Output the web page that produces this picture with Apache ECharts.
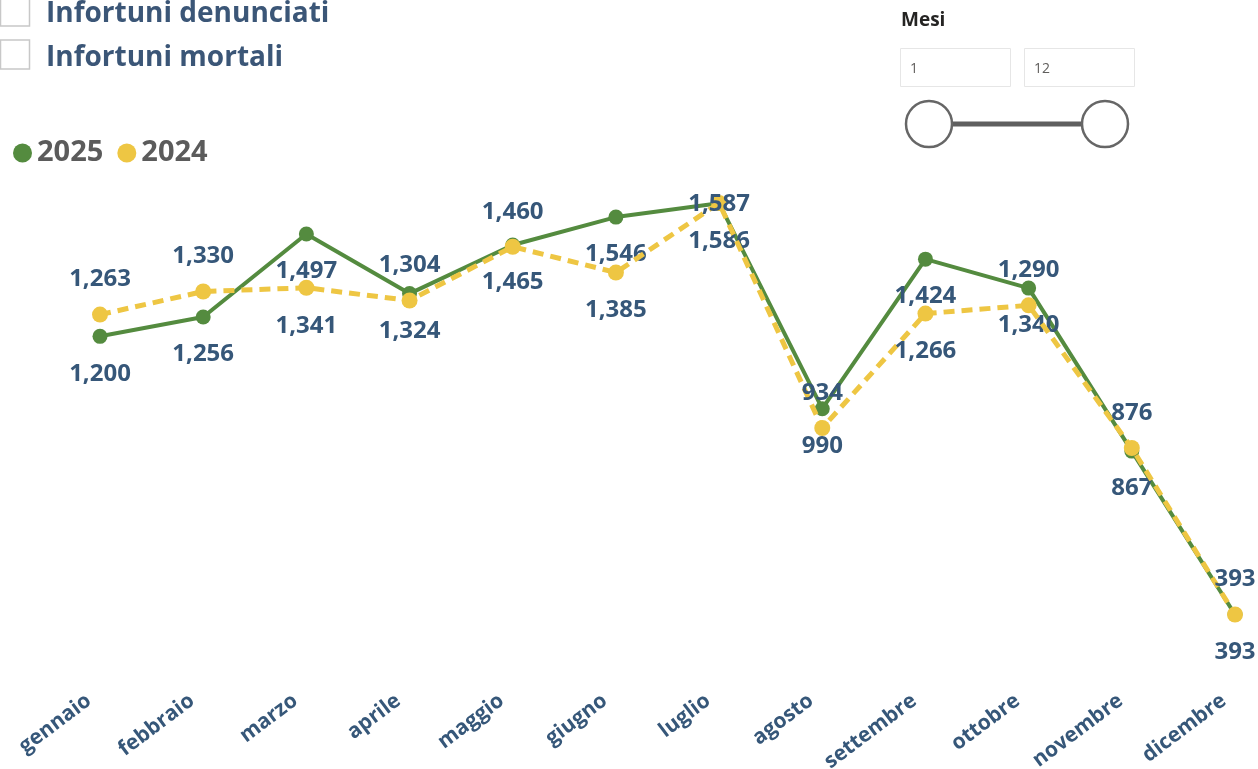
<!DOCTYPE html>
<html lang="it">
<head>
<meta charset="UTF-8">
<title>Infortuni per mese</title>
<script src="https://cdn.jsdelivr.net/npm/echarts@6/dist/echarts.min.js"></script>
<style>
  html, body { margin: 0; padding: 0; background: #fff; }
  #main { width: 1258px; height: 769px; }
</style>
</head>
<body>
<div id="main"></div>
<script>
// dati
var mesi = ['gennaio', 'febbraio', 'marzo', 'aprile', 'maggio', 'giugno',
  'luglio', 'agosto', 'settembre', 'ottobre', 'novembre', 'dicembre'];
var valori2025 = [1200, 1256, 1497, 1324, 1465, 1546, 1586, 990, 1424, 1340, 867, 393];
var valori2024 = [1263, 1330, 1341, 1304, 1460, 1385, 1587, 934, 1266, 1290, 876, 393];

var FONT = "'Open Sans', 'DejaVu Sans', sans-serif";
var LABEL_COLOR = '#365779';
var VERDE = '#548b3f';
var GIALLO = '#eec643';
var LIMITE_ETICHETTE = 192; // le etichette non salgono oltre il bordo dell'area del grafico

var chart = echarts.init(document.getElementById('main'));

// etichette: 2025 sempre sotto, 2024 sopra salvo quando il 2025 e' molto piu' alto
var sotto = { position: 'bottom', distance: 18 };
var sopra = { position: 'top', distance: 15 };
var dati2025 = valori2025.map(function (v) {
  return { value: v, label: sotto };
});
var dati2024 = valori2024.map(function (v, i) {
  return { value: v, label: valori2025[i] - v > 100 ? sotto : sopra };
});

var labelStyle = {
  show: true,
  color: LABEL_COLOR,
  fontFamily: FONT,
  fontWeight: 'bold',
  fontSize: 24,
  formatter: function (p) { return p.value.toLocaleString('en-US'); }
};

function tienIdentro(params) {
  if (params.labelRect.y < LIMITE_ETICHETTE) {
    return { dy: LIMITE_ETICHETTE - params.labelRect.y };
  }
}

var option = {
  backgroundColor: '#fff',
  animation: false,
  textStyle: { fontFamily: FONT },
  legend: {
    left: 8,
    top: 133,
    icon: 'circle',
    itemWidth: 19,
    itemHeight: 19,
    itemGap: 14,
    textStyle: { fontSize: 29, fontWeight: 'bold', color: '#5b5b5b', fontFamily: FONT, lineHeight: 30 },
    data: ['2025', '2024']
  },
  grid: { left: 100, right: 23, top: 164, bottom: 88, containLabel: false, outerBoundsMode: 'none' },
  xAxis: {
    type: 'category',
    boundaryGap: false,
    data: mesi,
    axisLine: { show: false },
    axisTick: { show: false },
    axisLabel: {
      rotate: 37,
      margin: 9,
      padding: [0, 14, 0, 0],
      color: LABEL_COLOR,
      fontFamily: FONT,
      fontWeight: 'bold',
      fontSize: 21
    }
  },
  yAxis: {
    type: 'value',
    min: 200,
    max: 1700,
    show: false,
    splitLine: { show: false }
  },
  series: [
    {
      name: '2025',
      type: 'line',
      data: dati2025,
      color: VERDE,
      symbol: 'circle',
      symbolSize: 15,
      lineStyle: { width: 4, color: VERDE },
      itemStyle: { color: VERDE },
      label: labelStyle,
      labelLayout: tienIdentro,
      z: 2
    },
    {
      name: '2024',
      type: 'line',
      data: dati2024,
      color: GIALLO,
      symbol: 'circle',
      symbolSize: 16,
      lineStyle: { width: 5, color: GIALLO, type: [11, 7] },
      itemStyle: { color: GIALLO },
      label: labelStyle,
      labelLayout: tienIdentro,
      z: 3
    }
  ],
  graphic: [
    // caselle di selezione
    { type: 'rect', shape: { x: 0.5, y: -3, width: 29, height: 29 },
      style: { fill: '#fff', stroke: '#c8c8c8', lineWidth: 1.5 } },
    { type: 'text', x: 46, y: 14,
      style: { text: 'Infortuni denunciati', fill: '#3b5677', font: 'bold 28px ' + FONT, textVerticalAlign: 'middle' } },
    { type: 'rect', shape: { x: 0.5, y: 40, width: 29, height: 29 },
      style: { fill: '#fff', stroke: '#c8c8c8', lineWidth: 1.5 } },
    { type: 'text', x: 46, y: 58,
      style: { text: 'Infortuni mortali', fill: '#3b5677', font: 'bold 28px ' + FONT, textVerticalAlign: 'middle' } },
    // filtro mesi
    { type: 'text', x: 901, y: 21,
      style: { text: 'Mesi', fill: '#252423', font: 'bold 19px ' + FONT, textVerticalAlign: 'middle' } },
    { type: 'rect', shape: { x: 900.5, y: 48.5, width: 110, height: 38 },
      style: { fill: '#fff', stroke: '#e6e6e6', lineWidth: 1 } },
    { type: 'text', x: 910, y: 69,
      style: { text: '1', fill: '#605e5c', font: '14px ' + FONT, textVerticalAlign: 'middle' } },
    { type: 'rect', shape: { x: 1024.5, y: 48.5, width: 110, height: 38 },
      style: { fill: '#fff', stroke: '#e6e6e6', lineWidth: 1 } },
    { type: 'text', x: 1034, y: 69,
      style: { text: '12', fill: '#605e5c', font: '14px ' + FONT, textVerticalAlign: 'middle' } },
    { type: 'line', shape: { x1: 952, y1: 124, x2: 1082, y2: 124 },
      style: { stroke: '#5f5f5f', lineWidth: 5 } },
    { type: 'circle', shape: { cx: 929, cy: 124, r: 23 },
      style: { fill: '#fff', stroke: '#666', lineWidth: 2.5 } },
    { type: 'circle', shape: { cx: 1105, cy: 124, r: 23 },
      style: { fill: '#fff', stroke: '#666', lineWidth: 2.5 } }
  ]
};

chart.setOption(option);
</script>
</body>
</html>
